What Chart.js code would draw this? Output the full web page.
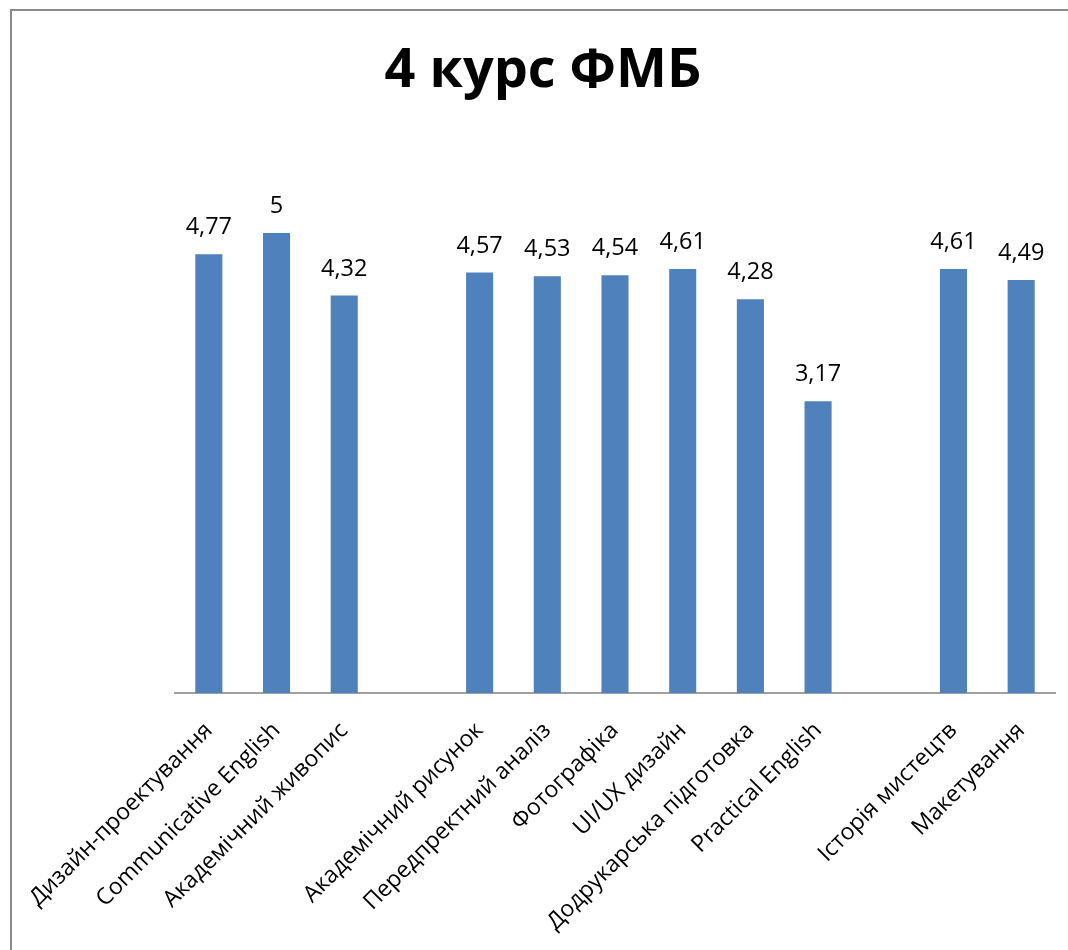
<!DOCTYPE html>
<html>
<head>
<meta charset="utf-8">
<script src="https://cdn.jsdelivr.net/npm/chart.js@4/dist/chart.umd.min.js"></script>
<style>
  html, body { margin: 0; padding: 0; background: #fff; overflow: hidden; }
  #wrap { position: relative; width: 1068px; height: 950px; }
  canvas { display: block; }
</style>
</head>
<body>
<div id="wrap"><canvas id="c" width="1068" height="950"></canvas></div>
<script>
const titleText = '4 курс ФМБ';
const categories = [
  'Дизайн-проектування',
  'Communicative English',
  'Академічний живопис',
  '',
  'Академічний рисунок',
  'Передпректний аналіз',
  'Фотографіка',
  'UI/UX дизайн',
  'Додрукарська підготовка',
  'Practical English',
  '',
  'Історія мистецтв',
  'Макетування'
];
const scores = [4.77, 5, 4.32, null, 4.57, 4.53, 4.54, 4.61, 4.28, 3.17, null, 4.61, 4.49];

const frameAndLabels = {
  id: 'frameAndLabels',
  beforeDraw(chart) {
    const ctx = chart.ctx;
    ctx.save();
    ctx.strokeStyle = '#8a8a8a';
    ctx.lineWidth = 2;
    ctx.beginPath();
    ctx.moveTo(11, 960);
    ctx.lineTo(11, 10);
    ctx.lineTo(1080, 10);
    ctx.stroke();
    ctx.restore();
  },
  afterDatasetsDraw(chart) {
    const ctx = chart.ctx;
    const meta = chart.getDatasetMeta(0);
    ctx.save();
    ctx.font = '23.5px "Open Sans"';
    ctx.fillStyle = '#000';
    ctx.textAlign = 'center';
    ctx.textBaseline = 'alphabetic';
    meta.data.forEach((bar, i) => {
      const v = scores[i];
      if (v === null) return;
      ctx.fillText(String(v).replace('.', ','), bar.x, bar.y - 20);
    });
    ctx.restore();
  }
};

new Chart(document.getElementById('c'), {
  type: 'bar',
  data: {
    labels: categories,
    datasets: [{
      data: scores,
      backgroundColor: '#4f81bd',
      borderWidth: 0,
      categoryPercentage: 1,
      barPercentage: 0.4
    }]
  },
  options: {
    responsive: false,
    devicePixelRatio: 1,
    animation: false,
    layout: { padding: { left: 31, right: 13, top: 10, bottom: 0 } },
    plugins: {
      legend: { display: false },
      tooltip: { enabled: false },
      title: {
        display: true,
        text: titleText,
        color: '#000',
        font: { family: 'Open Sans', size: 54, weight: 'bold' },
        padding: { top: 29, bottom: 37.2 }
      }
    },
    scales: {
      x: {
        grid: { display: false, drawTicks: false },
        border: { display: true, color: '#a0a0a0', width: 2 },
        ticks: {
          autoSkip: false,
          maxRotation: 45,
          minRotation: 45,
          padding: 24,
          color: '#000',
          font: { family: 'Open Sans', size: 23 }
        },
        afterFit(s) { s.height = 950 - 693; }
      },
      y: {
        min: 0,
        max: 6,
        grid: { display: false, drawTicks: false },
        border: { display: false },
        ticks: { display: false },
        afterFit(s) { s.width = 144; }
      }
    }
  },
  plugins: [frameAndLabels]
});
</script>
</body>
</html>
